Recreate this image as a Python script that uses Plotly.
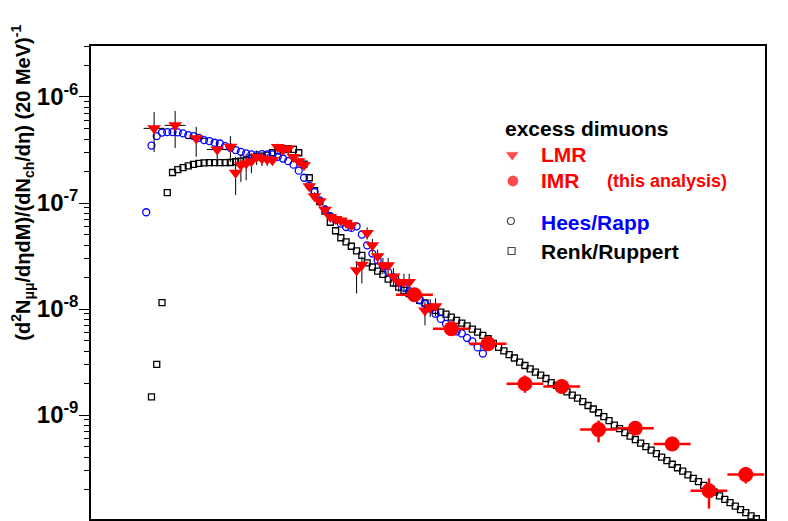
import plotly.graph_objects as go

# excess dimuons, LMR (triangles)
lmr_m = [0.24, 0.32, 0.40, 0.48, 0.53, 0.55, 0.57, 0.59, 0.61, 0.63, 0.65, 0.67, 0.69,
         0.71, 0.73, 0.75, 0.77, 0.79, 0.81, 0.83, 0.85, 0.87, 0.89, 0.91, 0.93, 0.95,
         0.97, 0.99, 1.01, 1.03, 1.05, 1.07, 1.09, 1.11, 1.13, 1.15, 1.17, 1.19, 1.21,
         1.27, 1.29, 1.31]
lmr_y = [5.06e-7, 5.40e-7, 4.07e-7, 3.20e-7, 3.39e-7, 1.93e-7, 2.28e-7, 2.36e-7, 2.48e-7,
         2.73e-7, 2.63e-7, 2.59e-7, 2.54e-7, 3.37e-7, 3.16e-7, 3.27e-7, 2.71e-7, 2.48e-7,
         2.28e-7, 1.44e-7, 1.16e-7, 1.04e-7, 8.64e-8, 7.39e-8, 7.07e-8, 6.83e-8, 6.51e-8,
         6.17e-8, 2.32e-8, 2.62e-8, 5.22e-8, 3.99e-8, 3.14e-8, 2.58e-8, 2.58e-8, 2.03e-8,
         1.80e-8, 1.80e-8, 1.80e-8, 9.70e-9, 1.04e-8, 1.06e-8]
lmr_eup = [2.15e-7, 1.97e-7, 1.17e-7, 0.6e-7, 0.89e-7, 0.80e-7, 0.6e-7, 0.55e-7, 0.45e-7,
           0.4e-7, 0.35e-7, 0.3e-7, 0.3e-7, 0.25e-7, 0.25e-7, 0.25e-7, 0.2e-7, 0.2e-7,
           0.2e-7, 0.12e-7, 0.1e-7, 0.09e-7, 0.8e-8, 0.7e-8, 0.7e-8, 0.7e-8, 0.7e-8,
           0.7e-8, 0.5e-8, 0.5e-8, 0.7e-8, 0.6e-8, 0.5e-8, 0.45e-8, 0.45e-8, 0.4e-8,
           0.35e-8, 0.35e-8, 0.35e-8, 2.0e-9, 2.0e-9, 2.0e-9]
lmr_edn = [2.04e-7, 2.10e-7, 1.34e-7, 0.7e-7, 0.96e-7, 0.74e-7, 0.70e-7, 0.72e-7, 0.57e-7,
           0.45e-7, 0.4e-7, 0.35e-7, 0.3e-7, 0.25e-7, 0.25e-7, 0.25e-7, 0.2e-7, 0.2e-7,
           0.2e-7, 0.12e-7, 0.1e-7, 0.09e-7, 0.8e-8, 0.7e-8, 0.7e-8, 0.7e-8, 0.7e-8,
           0.7e-8, 0.92e-8, 0.88e-8, 0.7e-8, 0.6e-8, 0.5e-8, 0.45e-8, 0.45e-8, 0.4e-8,
           0.35e-8, 0.35e-8, 0.35e-8, 2.7e-9, 2.0e-9, 2.0e-9]
lmr_ex = [0.04, 0.04, 0.04, 0.04, 0.02] + [0.01] * 37

# excess dimuons, IMR (this analysis)
imr_m = [1.23, 1.37, 1.51, 1.65, 1.79, 1.93, 2.07, 2.21, 2.35, 2.49]
imr_y = [1.365e-8, 6.52e-9, 4.70e-9, 1.97e-9, 1.86e-9, 7.28e-10, 7.49e-10, 5.33e-10,
         1.93e-10, 2.74e-10]
imr_eup = [1.0e-9, 6.0e-10, 4.5e-10, 3.9e-10, 2.0e-10, 1.6e-10, 1.0e-10, 0.9e-10,
           0.6e-10, 0.5e-10]
imr_edn = [1.0e-9, 6.0e-10, 4.5e-10, 3.5e-10, 2.0e-10, 1.76e-10, 1.0e-10, 0.7e-10,
           0.62e-10, 0.48e-10]
imr_ex = [0.07] * 10

# Hees/Rapp model
hr_m = [0.21, 0.23, 0.25, 0.27, 0.29, 0.31, 0.33, 0.35, 0.37, 0.39, 0.41, 0.43, 0.45,
        0.47, 0.49, 0.51, 0.53, 0.55, 0.57, 0.59, 0.61, 0.63, 0.65, 0.67, 0.69, 0.71,
        0.73, 0.75, 0.77, 0.79, 0.81, 0.83, 0.85, 0.87, 0.89, 0.91, 0.93, 0.95, 0.97,
        0.99, 1.01, 1.03, 1.05, 1.07, 1.09, 1.11, 1.13, 1.15, 1.17, 1.19, 1.21, 1.23,
        1.25, 1.27, 1.29, 1.31, 1.33, 1.35, 1.37, 1.39, 1.41, 1.43, 1.45, 1.47, 1.49]
hr_y = [8.18e-8, 3.48e-7, 4.28e-7, 4.62e-7, 4.67e-7, 4.67e-7, 4.64e-7, 4.54e-7, 4.37e-7,
        4.28e-7, 4.12e-7, 3.92e-7, 3.84e-7, 3.70e-7, 3.64e-7, 3.44e-7, 3.32e-7, 3.16e-7,
        3.04e-7, 2.94e-7, 2.87e-7, 2.83e-7, 2.89e-7, 2.87e-7, 2.87e-7, 2.73e-7, 2.63e-7,
        2.48e-7, 2.30e-7, 2.02e-7, 1.73e-7, 1.46e-7, 1.27e-7, 1.06e-7, 8.68e-8, 7.50e-8,
        6.98e-8, 6.40e-8, 5.94e-8, 5.82e-8, 6.03e-8, 5.04e-8, 3.99e-8, 3.33e-8, 2.88e-8,
        2.53e-8, 2.23e-8, 2.00e-8, 1.77e-8, 1.59e-8, 1.47e-8, 1.34e-8, 1.21e-8, 1.12e-8,
        1.01e-8, 9.03e-9, 8.06e-9, 7.23e-9, 6.56e-9, 6.14e-9, 5.88e-9, 5.33e-9, 4.94e-9,
        4.34e-9, 3.80e-9]

# Renk/Ruppert model
rr_m = [0.23, 0.25, 0.27, 0.29, 0.31, 0.33, 0.35, 0.37, 0.39, 0.41, 0.43, 0.45, 0.47,
        0.49, 0.51, 0.53, 0.55, 0.57, 0.59, 0.61, 0.63, 0.65, 0.67, 0.69, 0.71, 0.73,
        0.75, 0.77, 0.79, 0.81, 0.83, 0.85, 0.87, 0.89, 0.91, 0.93, 0.95, 0.97, 0.99,
        1.01, 1.03, 1.05, 1.07, 1.09, 1.11, 1.13, 1.15, 1.17, 1.19, 1.21, 1.23, 1.25,
        1.27, 1.29, 1.31, 1.33, 1.35, 1.37, 1.39, 1.41, 1.43, 1.45, 1.47, 1.49, 1.51,
        1.53, 1.55, 1.57, 1.59, 1.61, 1.63, 1.65, 1.67, 1.69, 1.71, 1.73, 1.75, 1.77,
        1.79, 1.81, 1.83, 1.85, 1.87, 1.89, 1.91, 1.93, 1.95, 1.97, 1.99, 2.01, 2.03,
        2.05, 2.07, 2.09, 2.11, 2.13, 2.15, 2.17, 2.19, 2.21, 2.23, 2.25, 2.27, 2.29,
        2.31, 2.33, 2.35, 2.37, 2.39, 2.41, 2.43, 2.45, 2.47, 2.49, 2.51, 2.53]
rr_y = [1.48e-9, 3.0e-9, 1.15e-8, 1.25e-7, 1.94e-7, 2.06e-7, 2.16e-7, 2.24e-7, 2.31e-7,
        2.36e-7, 2.39e-7, 2.40e-7, 2.40e-7, 2.40e-7, 2.40e-7, 2.41e-7, 2.45e-7, 2.48e-7,
        2.54e-7, 2.63e-7, 2.73e-7, 2.77e-7, 2.83e-7, 2.98e-7, 3.11e-7, 3.23e-7, 3.23e-7,
        3.21e-7, 2.98e-7, 2.33e-7, 1.73e-7, 1.31e-7, 1.03e-7, 8.37e-8, 6.58e-8, 5.47e-8,
        4.70e-8, 4.29e-8, 3.91e-8, 3.53e-8, 3.21e-8, 2.72e-8, 2.49e-8, 2.28e-8, 2.12e-8,
        1.91e-8, 1.76e-8, 1.61e-8, 1.50e-8, 1.40e-8, 1.30e-8, 1.21e-8, 1.14e-8, 1.04e-8,
        9.70e-9, 9.35e-9, 8.95e-9, 8.38e-9, 7.80e-9, 7.36e-9, 6.92e-9, 6.46e-9, 6.05e-9,
        5.63e-9, 5.24e-9, 4.73e-9, 4.34e-9, 4.02e-9, 3.72e-9, 3.45e-9, 3.16e-9, 2.93e-9,
        2.72e-9, 2.54e-9, 2.38e-9, 2.21e-9, 2.02e-9, 1.90e-9, 1.78e-9, 1.65e-9, 1.54e-9,
        1.44e-9, 1.34e-9, 1.23e-9, 1.14e-9, 1.05e-9, 9.66e-10, 8.85e-10, 8.03e-10,
        7.44e-10, 6.82e-10, 6.32e-10, 5.85e-10, 5.42e-10, 5.03e-10, 4.66e-10, 4.32e-10,
        4.00e-10, 3.71e-10, 3.43e-10, 3.18e-10, 2.95e-10, 2.73e-10, 2.53e-10, 2.35e-10,
        2.17e-10, 2.01e-10, 1.87e-10, 1.73e-10, 1.60e-10, 1.49e-10, 1.38e-10, 1.28e-10,
        1.20e-10, 1.12e-10, 1.05e-10]

# y axis labels
y_tickvals = [1e-9, 1e-8, 1e-7, 1e-6]
y_ticktext = ["10<sup>-9</sup>", "10<sup>-8</sup>", "10<sup>-7</sup>", "10<sup>-6</sup>"]
y_minor = [m * 10.0 ** e for e in range(-10, -5) for m in range(2, 10)]

FONT = "Liberation Sans"
RED = "#ff0000"
BLUE = "#0000ff"

fig = go.Figure()

fig.add_trace(go.Scatter(
    x=rr_m, y=rr_y, mode="markers", name="Renk/Ruppert",
    marker=dict(symbol="square-open", size=6, color="black", line=dict(width=1.3))))

fig.add_trace(go.Scatter(
    x=hr_m, y=hr_y, mode="markers", name="Hees/Rapp",
    marker=dict(symbol="circle-open", size=7, color=BLUE, line=dict(width=1.3))))

fig.add_trace(go.Scatter(
    x=lmr_m, y=lmr_y, mode="markers", name="LMR",
    marker=dict(symbol="triangle-down", size=12, color=RED),
    error_y=dict(type="data", array=lmr_eup, arrayminus=lmr_edn, color="black",
                 thickness=1, width=0),
    error_x=dict(type="data", array=lmr_ex, color="black", thickness=1, width=0)))

fig.add_trace(go.Scatter(
    x=imr_m, y=imr_y, mode="markers", name="IMR",
    marker=dict(symbol="circle", size=15, color=RED),
    error_y=dict(type="data", array=imr_eup, arrayminus=imr_edn, color=RED,
                 thickness=2.5, width=0),
    error_x=dict(type="data", array=imr_ex, color=RED, thickness=2.5, width=0)))

# legend keys drawn on an invisible overlay axis (0..1 box of the frame)
key_x = [0.625, 0.626, 0.623, 0.624]
key_y = [0.7696, 0.7146, 0.6300, 0.5666]
key_sym = ["triangle-down", "circle", "circle-open", "square-open"]
key_col = [RED, RED, "black", "black"]
key_size = [13, 12, 7, 7]
fig.add_trace(go.Scatter(
    x=key_x, y=key_y, xaxis="x2", yaxis="y2", mode="markers", showlegend=False,
    hoverinfo="skip",
    marker=dict(symbol=key_sym, color=key_col, size=key_size, line=dict(width=1.2))))

texts = [
    ("excess dimuons", 0.6110, 0.8266, "black", 21),
    ("LMR", 0.6640, 0.7696, RED, 21),
    ("IMR", 0.6640, 0.7146, RED, 21),
    ("(this analysis)", 0.7630, 0.7146, RED, 18),
    ("Hees/Rapp", 0.6640, 0.6279, BLUE, 21),
    ("Renk/Ruppert", 0.6640, 0.5651, "black", 21),
]
annotations = []
for t, x, y, c, s in texts:
    annotations.append(dict(
        text=t, x=x, y=y, xref="paper", yref="paper", xanchor="left", yanchor="middle",
        showarrow=False, font=dict(family=FONT, size=s, color=c, weight="bold")))

annotations.append(dict(
    text="(d<sup>2</sup>N<sub>μμ</sub>/dηdM)/(dN<sub>ch</sub>/dη) (20 MeV)<sup>-1</sup>",
    x=-0.1015, y=0.71, xref="paper", yref="paper", xanchor="center", yanchor="middle",
    textangle=-90, showarrow=False,
    font=dict(family=FONT, size=20, color="black", weight="bold")))

# the page body adds an 8 px offset, margins are set against it
fig.update_layout(
    width=788, height=521,
    margin=dict(l=83, r=31, t=38, b=10, autoexpand=False),
    paper_bgcolor="white", plot_bgcolor="white",
    showlegend=False,
    annotations=annotations,
    xaxis=dict(range=[0, 2.563], showline=True, linecolor="black", linewidth=1.5,
               mirror=True, ticks="outside", ticklen=8, tickcolor="black",
               tick0=0, dtick=0.1, showticklabels=False, showgrid=False, zeroline=False,
               automargin=False),
    yaxis=dict(type="log", range=[-9.981, -5.519], showline=True, linecolor="black",
               linewidth=1.5, mirror=True, ticks="outside", ticklen=10,
               tickcolor="black", tickmode="array", tickvals=y_tickvals,
               ticktext=y_ticktext, showgrid=False, automargin=False,
               ticklabelstandoff=-4,
               tickfont=dict(family=FONT, size=24, color="black", weight="bold"),
               minor=dict(ticks="outside", ticklen=5, tickcolor="black",
                          tickmode="array", tickvals=y_minor, showgrid=False)),
    xaxis2=dict(overlaying="x", range=[0, 1], visible=False),
    yaxis2=dict(overlaying="y", range=[0, 1], visible=False),
)

fig.write_html("out.html")
